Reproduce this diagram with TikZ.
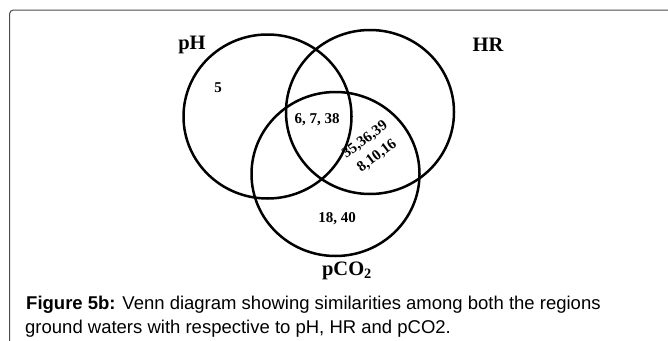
\documentclass[tikz,border=0pt]{standalone}
\usepackage{fontspec}
\setmainfont{Liberation Serif}
\newfontfamily\capfont{Liberation Sans}
\begin{document}
\begin{tikzpicture}[x=1pt,y=-1pt,
    setname/.style={font=\fontsize{20.5}{20}\selectfont\bfseries},
    members/.style={font=\fontsize{15}{20}\selectfont\bfseries, align=center, inner sep=0},
    ring/.style={line width=2.5pt},
    captext/.style={font=\capfont\fontsize{18.5}{18}\selectfont, anchor=base west, inner sep=0}]
  \def\rx{84}  % x radius of a set
  \def\ry{82}  % y radius of a set
  \clip (0,0) rectangle (668,340);

  % panel frame (runs off the right and bottom)
  \draw[gray!60!black, line width=1pt, rounded corners=4pt] (9.5,10) rectangle (700,400);

  % the three sets
  \coordinate (cpH) at (267.5,116.5);
  \coordinate (cHR) at (370,112);
  \coordinate (cCO) at (335.5,174);
  \foreach \c in {cpH,cHR,cCO} {
    \draw[ring] (\c) ellipse[x radius=\rx, y radius=\ry];
  }

  % set names
  \node[setname] (pH) at (192,45) {pH};
  \node[setname] (HR) at (488,45) {HR};
  \node[setname] (pCO) at (347,271) {pCO\textsubscript{2}};

  % members of the regions
  \node[members] (onlypH) at (218,88) {5};
  \node[members] (allthree) at (317,120) {6, 7, 38};
  \node[members, rotate=37] (HRCO) at (371,148) {35,36,39\\8,10,16};
  \node[members] (onlyCO) at (337,219) {18, 40};

  % caption
  \node[captext] (cap1) at (26,309) {\textbf{Figure 5b:} Venn diagram showing similarities among both the regions};
  \node[captext] (cap2) at (25,333) {ground waters with respective to pH, HR and pCO2.};
\end{tikzpicture}
\end{document}
